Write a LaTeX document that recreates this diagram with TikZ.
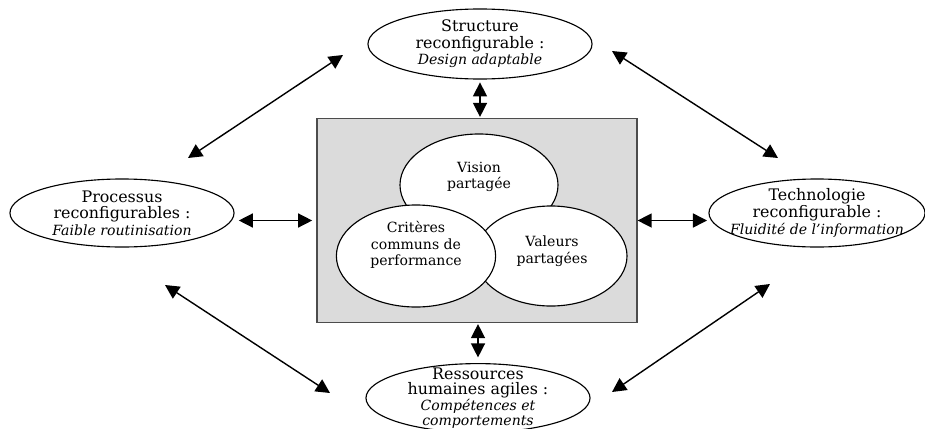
\documentclass[tikz,border=0pt]{standalone}
\usepackage{fontspec}
\setmainfont{DejaVu Serif}
\usetikzlibrary{arrows.meta, shapes.geometric}

% italic second line of each pole
\newcommand{\gloss}[1]{{\fontsize{10}{11.7}\selectfont\itshape #1}}

\begin{document}
\begin{tikzpicture}[x=0.025cm, y=-0.025cm, >={Triangle[length=10pt, width=10pt]},
  font=\fontsize{10}{11.7}\selectfont,
  pole/.style={ellipse, draw, line width=0.8pt, inner sep=-1.5cm, align=center,
               font=\fontsize{11.3}{11.8}\selectfont},
  disc/.style={ellipse, draw, line width=0.8pt, fill=white, inner sep=-1cm},
  link/.style={<->, line width=1pt}]

\useasboundingbox (0,0) rectangle (925,428);

% Shared core: grey box with the three overlapping discs
\node[draw=black!70, fill=black!14, line width=0.8pt, inner sep=0pt,
      minimum width=8cm, minimum height=5.08cm] (core) at (477,220.5) {};
\node[disc, minimum width=3.95cm, minimum height=2.55cm] (vision) at (479,185) {};
\node[disc, minimum width=3.8cm, minimum height=2.5cm] (valeurs) at (551,256) {};
\node[disc, minimum width=3.98cm, minimum height=2.55cm] (criteres) at (416,256) {};
\node[align=center] (vision-txt) at (479,177) {Vision\\partagée};
\node[align=center] (valeurs-txt) at (552,251) {Valeurs\\partagées};
\node[align=center] (criteres-txt) at (416,245) {Critères\\communs de\\performance};

% Four reconfigurable poles
\node[pole, minimum width=5.6cm, minimum height=1.75cm] (struct) at (480,44)
  {Structure\\reconfigurable :\\\gloss{Design adaptable}};
\node[pole, minimum width=5.6cm, minimum height=1.7cm] (proc) at (122,213)
  {Processus\\reconfigurables :\\\gloss{Faible routinisation}};
\node[pole, minimum width=5.4cm, minimum height=1.7cm] (techno) at (817,213)
  {Technologie\\reconfigurable :\\\gloss{Fluidité de l'information}};
\node[pole, minimum width=5.6cm, minimum height=1.72cm,
      font=\fontsize{11.3}{11.2}\selectfont] (rh) at (478,398)
  {Ressources\\humaines agiles :\\\gloss{Compétences et}\\[-0.6pt]\gloss{comportements}};

% Links between the poles and the core
\draw[link, shorten <=2pt, shorten >=1pt] (struct.south) -- (struct.south |- core.north);
\draw[link, shorten <=1pt, shorten >=4pt] (core.south -| rh.north) -- (rh.north);
\draw[link, shorten <=3pt, shorten >=3pt] (core.west -| proc.east) -- (core.west);
\draw[link, shorten >=1pt] (core.east) -- (core.east -| techno.west);

% Links between neighbouring poles
\coordinate (ul-a) at (188,158);
\coordinate (ul-b) at (343,55);
\coordinate (ur-a) at (612,51);
\coordinate (ur-b) at (778,158);
\coordinate (ll-a) at (165,285);
\coordinate (ll-b) at (330,393);
\coordinate (lr-a) at (612,392);
\coordinate (lr-b) at (770,284);
\foreach \d in {ul, ur, ll, lr} {
  \draw[link] (\d-a) -- (\d-b);
}

\end{tikzpicture}
\end{document}
